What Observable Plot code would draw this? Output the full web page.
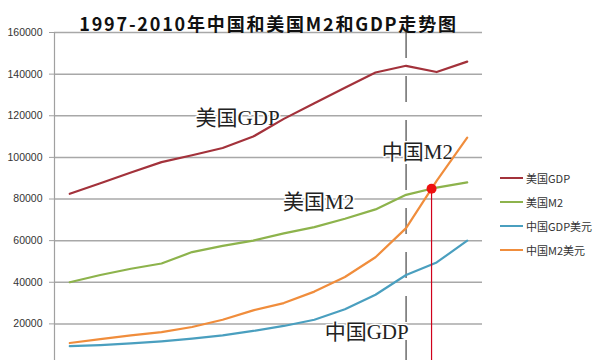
<!DOCTYPE html>
<html>
<head>
<meta charset="utf-8">
<script src="https://cdn.jsdelivr.net/npm/d3@7"></script>
<script src="https://cdn.jsdelivr.net/npm/@observablehq/plot@0.6"></script>
<style>
  html, body { margin: 0; padding: 0; background: #fff; }
  #wrap { position: relative; width: 600px; height: 360px; overflow: hidden; }
  #legend { position: absolute; left: 500px; top: 166px; font-family: "Noto Sans CJK SC", "Liberation Sans", sans-serif; font-size: 11px; color: #333; }
  #legend .row { display: flex; align-items: center; height: 24px; }
  #legend .sw { width: 23px; height: 2px; margin-right: 3px; }
</style>
</head>
<body>
<div id="wrap"><div id="legend"></div></div>
<script>
const years = [1997, 1998, 1999, 2000, 2001, 2002, 2003, 2004, 2005, 2006, 2007, 2008, 2009, 2010];
const usGDP = [82500, 87600, 92700, 97700, 101000, 104500, 110000, 118500, 126000, 133500, 140800, 144000, 141000, 146000];
const usM2  = [40000, 43500, 46500, 49000, 54500, 57500, 60000, 63500, 66500, 70500, 75000, 82000, 85500, 88000];
const cnGDP = [9300, 9800, 10600, 11600, 12900, 14500, 16600, 19000, 22000, 27000, 34000, 43500, 49500, 60000];
const cnM2  = [10800, 12700, 14500, 16000, 18500, 22000, 26500, 30000, 35500, 42500, 52000, 66000, 88700, 109500];
const seriesNames = ["美国GDP", "美国M2", "中国GDP美元", "中国M2美元"];
const seriesColors = ["#a3323b", "#8db34c", "#4a9fbf", "#f08d3c"];
const yTicks = [20000, 40000, 60000, 80000, 100000, 120000, 140000, 160000];
const titleText = "1997-2010年中国和美国M2和GDP走势图";
const markerYear = 2008;
const annotations = [
  {text: "美国GDP", year: 2002.49, value: 119000},
  {text: "美国M2", year: 2005.14, value: 78300},
  {text: "中国M2", year: 2008.37, value: 102400},
  {text: "中国GDP", year: 2006.71, value: 15900}
];

const allSeries = [usGDP, usM2, cnGDP, cnM2];
const rows = [];
allSeries.forEach((vals, s) => vals.forEach((v, i) => rows.push({series: seriesNames[s], year: years[i], value: v})));

// intersection of China M2 with US M2 (between two consecutive years)
let cross = null;
for (let i = 0; i < years.length - 1; i++) {
  const d0 = cnM2[i] - usM2[i], d1 = cnM2[i + 1] - usM2[i + 1];
  if (d0 < 0 && d1 >= 0) {
    const t = -d0 / (d1 - d0);
    cross = {year: years[i] + t * (years[i + 1] - years[i]), value: usM2[i] + t * (usM2[i + 1] - usM2[i])};
  }
}

const chart = Plot.plot({
  width: 600,
  height: 360,
  marginLeft: 54,
  marginRight: 118,
  marginTop: 32,
  marginBottom: 0,
  style: {fontFamily: "'Liberation Sans', Arial, sans-serif", background: "transparent", overflow: "hidden"},
  x: {domain: [years[0] - 0.5, years[years.length - 1] + 0.5], axis: null},
  y: {domain: [0, 160000], range: [365, 32], axis: null, label: null},
  color: {domain: seriesNames, range: seriesColors},
  marks: [
    Plot.gridY(yTicks, {stroke: "#a8a8a8", strokeOpacity: 1, strokeWidth: 1.5}),
    Plot.ruleX([years[0] - 0.5], {stroke: "#a0a0a0", strokeWidth: 1.2}),
    Plot.axisY(yTicks, {label: null, tickSize: 5, tickPadding: 7, tickFormat: d3.format("d"), fontSize: 10.5, fill: "#333", stroke: "#a0a0a0"}),
    Plot.ruleX([markerYear], {stroke: "#222", strokeWidth: 1, strokeDasharray: "26,18"}),
    Plot.text(annotations, {x: "year", y: "value", text: "text", fontSize: 21, fill: "#222", fontFamily: "'Liberation Serif', 'Noto Sans CJK SC', serif", stroke: "#fff", strokeWidth: 3, paintOrder: "stroke"}),
    Plot.lineY(rows, {x: "year", y: "value", stroke: "series", strokeWidth: 2.2, curve: "linear"}),
    Plot.ruleX(cross ? [cross] : [], {x: "year", y1: "value", y2: 0, stroke: "#d0021b", strokeWidth: 1.2}),
    Plot.dot(cross ? [cross] : [], {x: "year", y: "value", r: 5, fill: "#ee1111", stroke: "none"}),
    Plot.text([titleText], {frameAnchor: "top", dy: -14, fontSize: 18, fontWeight: "bold", fill: "#111", fontFamily: "'Noto Sans CJK SC', sans-serif"})
  ]
});
d3.select(chart).selectAll("text").filter(function() { return this.textContent === titleText; })
  .style("letter-spacing", "1.8px");
const wrap = document.getElementById("wrap");
wrap.insertBefore(chart, wrap.firstChild);

const legend = document.getElementById("legend");
seriesNames.forEach((n, i) => {
  const r = document.createElement("div");
  r.className = "row";
  r.innerHTML = `<span class="sw" style="background:${seriesColors[i]}"></span><span>${n}</span>`;
  legend.appendChild(r);
});
</script>
</body>
</html>
